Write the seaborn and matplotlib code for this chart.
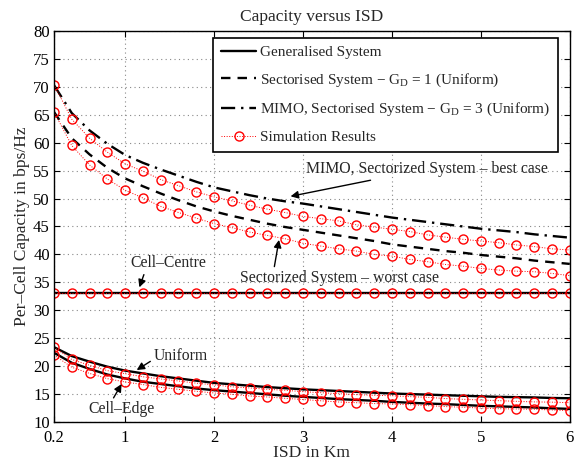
import numpy as np
import pandas as pd
import matplotlib
matplotlib.use('Agg')
import matplotlib.pyplot as plt
import seaborn as sns

# ISD values (km) at which everything is sampled
isd = [0.2, 0.4, 0.6, 0.8, 1.0, 1.2, 1.4, 1.6, 1.8, 2.0,
       2.2, 2.4, 2.6, 2.8, 3.0, 3.2, 3.4, 3.6, 3.8, 4.0,
       4.2, 4.4, 4.6, 4.8, 5.0, 5.2, 5.4, 5.6, 5.8, 6.0]

# Analytical curves
mimo_sect = [70.3, 65.3, 62.2, 59.8, 57.8, 56.4, 55.2, 54.1, 53.0, 52.0,
             51.3, 50.6, 50.0, 49.5, 49.1, 48.6, 48.1, 47.6, 47.1, 46.6,
             46.2, 45.8, 45.4, 45.0, 44.6, 44.3, 44.0, 43.6, 43.3, 43.0]
sect = [65.5, 60.8, 57.9, 55.5, 53.6, 52.2, 50.9, 49.7, 48.6, 47.7,
        46.9, 46.2, 45.5, 44.9, 44.4, 43.9, 43.4, 42.9, 42.4, 41.8,
        41.4, 41.0, 40.6, 40.3, 39.9, 39.6, 39.3, 38.9, 38.6, 38.3]
cell_centre = [33.1] * 30
uniform = [23.4, 21.8, 20.8, 19.9, 19.2, 18.7, 18.2, 17.8, 17.4, 17.0,
           16.75, 16.5, 16.25, 16.05, 15.85, 15.7, 15.55, 15.4, 15.25, 15.1,
           15.0, 14.9, 14.8, 14.7, 14.6, 14.5, 14.45, 14.4, 14.3, 14.25]
cell_edge = [22.4, 20.6, 19.5, 18.5, 17.8, 17.2, 16.8, 16.4, 16.0, 15.7,
             15.45, 15.2, 14.95, 14.7, 14.5, 14.3, 14.1, 13.95, 13.8, 13.6,
             13.45, 13.3, 13.2, 13.05, 12.9, 12.8, 12.7, 12.6, 12.45, 12.35]

# Simulation results
sim_mimo = [70.4, 64.2, 60.8, 58.3, 56.2, 54.9, 53.4, 52.3, 51.2, 50.3,
            49.6, 48.8, 48.1, 47.5, 46.8, 46.4, 46.0, 45.3, 44.9, 44.5,
            44.1, 43.5, 43.1, 42.7, 42.4, 42.1, 41.7, 41.4, 41.0, 40.8]
sim_sect = [65.5, 59.5, 56.0, 53.5, 51.5, 50.1, 48.6, 47.5, 46.5, 45.5,
            44.8, 44.0, 43.4, 42.8, 42.0, 41.5, 41.0, 40.6, 40.0, 39.7,
            39.1, 38.7, 38.2, 37.9, 37.5, 37.2, 37.0, 36.9, 36.6, 36.2]
sim_centre = [33.1] * 30
sim_uniform = [23.4, 21.2, 20.15, 19.2, 18.65, 18.1, 17.7, 17.35, 16.95, 16.65,
               16.3, 16.1, 15.85, 15.68, 15.43, 15.25, 15.07, 14.9, 14.78, 14.7,
               14.54, 14.42, 14.2, 14.06, 13.94, 13.82, 13.7, 13.6, 13.55, 13.46]
sim_edge = [22.0, 19.8, 18.7, 17.76, 17.16, 16.7, 16.2, 15.85, 15.5, 15.2,
            14.96, 14.66, 14.48, 14.24, 14.03, 13.8, 13.58, 13.46, 13.3, 13.23,
            13.1, 12.94, 12.76, 12.64, 12.5, 12.38, 12.33, 12.28, 12.15, 12.03]

xticks = [0.2, 1, 2, 3, 4, 5, 6]
yticks = list(range(10, 81, 5))

sns.set_style('white')
plt.rcParams['font.family'] = ['Liberation Serif', 'DejaVu Serif']
plt.rcParams['mathtext.fontset'] = 'custom'
plt.rcParams['mathtext.rm'] = 'Liberation Serif'
plt.rcParams['mathtext.it'] = 'Liberation Serif:italic'

fig = plt.figure(figsize=(5.85, 4.61), dpi=100)
ax = fig.add_axes([0.0923, 0.0846, 0.8817, 0.8482])

lw = 1.7
sns.lineplot(x=isd, y=uniform, ax=ax, color='black', lw=lw)
sns.lineplot(x=isd, y=cell_edge, ax=ax, color='black', lw=lw)
sns.lineplot(x=isd, y=cell_centre, ax=ax, color='black', lw=lw)
sns.lineplot(x=isd, y=sect, ax=ax, color='black', lw=lw, linestyle=(0, (4, 3)))
sns.lineplot(x=isd, y=mimo_sect, ax=ax, color='black', lw=lw, linestyle=(0, (6, 2.5, 1, 2.5)))

sim_kw = dict(color='red', lw=0.7, linestyle=':', marker='o', markersize=6.5,
              markerfacecolor='none', markeredgecolor='red', markeredgewidth=1.0)
for ys in [sim_mimo, sim_sect, sim_centre, sim_uniform, sim_edge]:
    sns.lineplot(x=isd, y=ys, ax=ax, **sim_kw)

lines = ax.get_lines()
handles = [lines[0], lines[3], lines[4], lines[5]]
labels = ['Generalised System',
          r'Sectorised System $-$ $\mathrm{G_D}$ = 1 (Uniform)',
          r'MIMO, Sectorised System $-$ $\mathrm{G_D}$ = 3 (Uniform)',
          'Simulation Results']
leg = ax.legend(handles, labels, loc='upper right', fontsize=11, frameon=True,
                fancybox=False, edgecolor='black', framealpha=1,
                borderpad=0.5, labelspacing=0.8, handlelength=2.3,
                handletextpad=0.25, borderaxespad=0,
                bbox_to_anchor=(0.977, 0.982))
leg.get_frame().set_linewidth(1.2)

# annotations
fs = 11.3
arrow = dict(arrowstyle='-|>', color='black', lw=1, shrinkA=0, shrinkB=0)
ax.annotate('MIMO, Sectorized System – best case', xy=(2.86, 50.4), xytext=(3.03, 55.3),
            fontsize=fs, va='center', ha='left', arrowprops=arrow)
ax.annotate('Sectorized System – worst case', xy=(2.73, 42.6), xytext=(3.41, 35.8),
            fontsize=fs, va='center', ha='center',
            arrowprops=dict(arrow, relpos=(0.17, 1.0)))
ax.annotate('Cell–Centre', xy=(1.16, 34.1), xytext=(1.48, 38.4),
            fontsize=fs, va='center', ha='center',
            arrowprops=dict(arrow, relpos=(0.2, 0.0)))
ax.annotate('Uniform', xy=(1.13, 19.3), xytext=(1.32, 21.8),
            fontsize=fs, va='center', ha='left',
            arrowprops=dict(arrow, relpos=(0.0, 0.3)))
ax.annotate('Cell–Edge', xy=(0.96, 16.8), xytext=(0.96, 12.3),
            fontsize=fs, va='center', ha='center',
            arrowprops=dict(arrow, relpos=(0.35, 1.0)))

ax.set_xlim(0.2, 6)
ax.set_ylim(10, 80)
ax.set_xticks(xticks)
ax.set_xticklabels(['0.2', '1', '2', '3', '4', '5', '6'])
ax.set_yticks(yticks)
ax.grid(True, linestyle=(0, (1, 3)), color='#888888', lw=0.8)
ax.tick_params(direction='in', length=4, labelsize=12, colors='black',
               top=True, right=True, bottom=True, left=True)
ax.tick_params(axis='x', pad=6)
ax.tick_params(axis='y', pad=3)
for s in ax.spines.values():
    s.set_color('black')
    s.set_linewidth(1)

ax.set_title('Capacity versus ISD', fontsize=12.5, pad=7)
ax.set_xlabel('ISD in Km', fontsize=12.6, labelpad=-1)
ax.set_ylabel('Per–Cell Capacity in bps/Hz', fontsize=12.6, labelpad=2)

plt.savefig('out.png', dpi=100)
plt.close()
